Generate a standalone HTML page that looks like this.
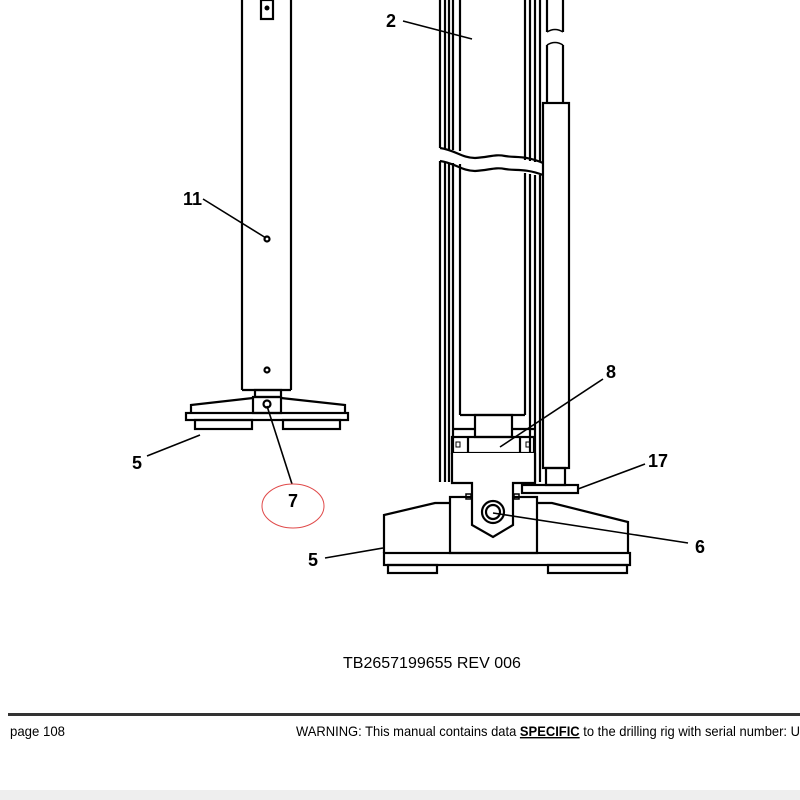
<!DOCTYPE html>
<html><head><style>html,body{margin:0;padding:0;background:#fff;}svg{display:block}</style></head>
<body>
<svg width="800" height="800" viewBox="0 0 800 800" xmlns="http://www.w3.org/2000/svg" font-family="Liberation Sans, Arial, sans-serif">
<g fill="none" stroke="#000" stroke-width="2.2">
<!-- left column -->
<line x1="242" y1="0" x2="242" y2="390"/><line x1="291" y1="0" x2="291" y2="390"/>
<line x1="242" y1="390" x2="291" y2="390"/>
<rect x="261" y="0" width="12" height="19"/>
<circle cx="267" cy="239" r="2.5"/><circle cx="267" cy="370" r="2.5"/>
<rect x="255" y="390" width="26" height="7"/>
<rect x="253" y="397" width="28" height="16"/>
<circle cx="267" cy="404" r="3.5"/>
<polyline points="253,398 191,405 191,413"/>
<polyline points="281,398 345,405 345,413"/>
<rect x="186" y="413" width="162" height="7"/>
<rect x="195" y="420" width="57" height="9"/>
<rect x="283" y="420" width="57" height="9"/>
<!-- right tower -->
<path d="M440 0V148 M445 0V149 M449 0V150 M453 0V150 M460 0V151"/>
<path d="M440 161V482 M445 162V482 M449 163V482 M453 163V482 M460 164V415"/>
<path d="M525 0V160 M530 0V161 M535 0V162 M540 0V162"/>
<path d="M525 173V415 M530 174V482 M535 175V482 M540 175V482"/>
<path d="M547 0V32 M563 0V32 M547 45V103 M563 45V103"/>
<path d="M547 32q8 -5 16 0 M547 45q8 -5 16 0" stroke-width="1.5"/>
<rect x="543" y="103" width="26" height="365"/>
<path d="M440 148 C455 150 462 158 475 158 C490 157 495 154 505 156 C515 158 525 155 543 163"/>
<path d="M440 161 C455 163 462 171 475 171 C490 170 495 167 505 169 C515 171 525 168 543 175"/>
<line x1="460" y1="415" x2="525" y2="415"/>
<rect x="475" y="415" width="37" height="22"/>
<line x1="452" y1="429" x2="475" y2="429"/><line x1="512" y1="429" x2="534" y2="429"/>
<rect x="452" y="437" width="82" height="16"/>
<line x1="468" y1="437" x2="468" y2="453"/><line x1="520" y1="437" x2="520" y2="453"/>
<rect x="456" y="442" width="4" height="5" stroke-width="1"/><rect x="526" y="442" width="4" height="5" stroke-width="1"/>
<path d="M475 453v8q0 4 4 4h29q4 0 4 -4v-8"/>
<rect x="546" y="468" width="19" height="17"/>
<rect x="522" y="485" width="56" height="8"/>
<!-- base -->
<rect x="450" y="497" width="87" height="56"/>
<polyline points="450,503 435,503 384,515 384,553"/>
<polyline points="537,503 552,503 628,522 628,553"/>
<rect x="384" y="553" width="246" height="12"/>
<rect x="388" y="565" width="49" height="8"/>
<rect x="548" y="565" width="79" height="8"/>
<path d="M452 453V483H472V525L493 537L513 525V483H535V453" fill="#fff"/>
<rect x="466" y="494" width="5" height="5" stroke-width="1.5"/><rect x="514" y="494" width="5" height="5" stroke-width="1.5"/>
<circle cx="493" cy="512" r="11"/><circle cx="493" cy="512" r="7"/>
</g>
<circle cx="267" cy="8" r="2.5" fill="#000"/>
<!-- leaders -->
<g stroke="#000" stroke-width="1.6">
<line x1="203" y1="199" x2="266" y2="238"/>
<line x1="147" y1="456" x2="200" y2="435"/>
<line x1="267" y1="406" x2="292" y2="484"/>
<line x1="403" y1="21" x2="472" y2="39"/>
<line x1="500" y1="447" x2="603" y2="379"/>
<line x1="578" y1="489" x2="645" y2="464"/>
<line x1="493" y1="513" x2="688" y2="543"/>
<line x1="325" y1="558" x2="383" y2="548"/>
</g>
<ellipse cx="293" cy="506" rx="31" ry="22" fill="none" stroke="#e04a4a" stroke-width="1"/>
<g font-size="18" font-weight="bold" fill="#000">
<text x="183" y="205">11</text>
<text x="132" y="469">5</text>
<text x="288" y="507">7</text>
<text x="386" y="27">2</text>
<text x="606" y="378">8</text>
<text x="648" y="467">17</text>
<text x="695" y="553">6</text>
<text x="308" y="566">5</text>
</g>
<text x="343" y="668" font-size="16" fill="#000">TB2657199655 REV 006</text>
<rect x="8" y="713" width="792" height="3" fill="#333"/>
<text x="10" y="736" font-size="14" fill="#000" textLength="55" lengthAdjust="spacingAndGlyphs">page 108</text>
<text x="296" y="736" font-size="14" fill="#000" textLength="504" lengthAdjust="spacingAndGlyphs">WARNING:  This manual contains data <tspan font-weight="bold" text-decoration="underline">SPECIFIC</tspan> to the drilling rig with serial number: U</text>
<rect x="0" y="790" width="800" height="10" fill="#eeeeee"/>
</svg>
</body></html>
